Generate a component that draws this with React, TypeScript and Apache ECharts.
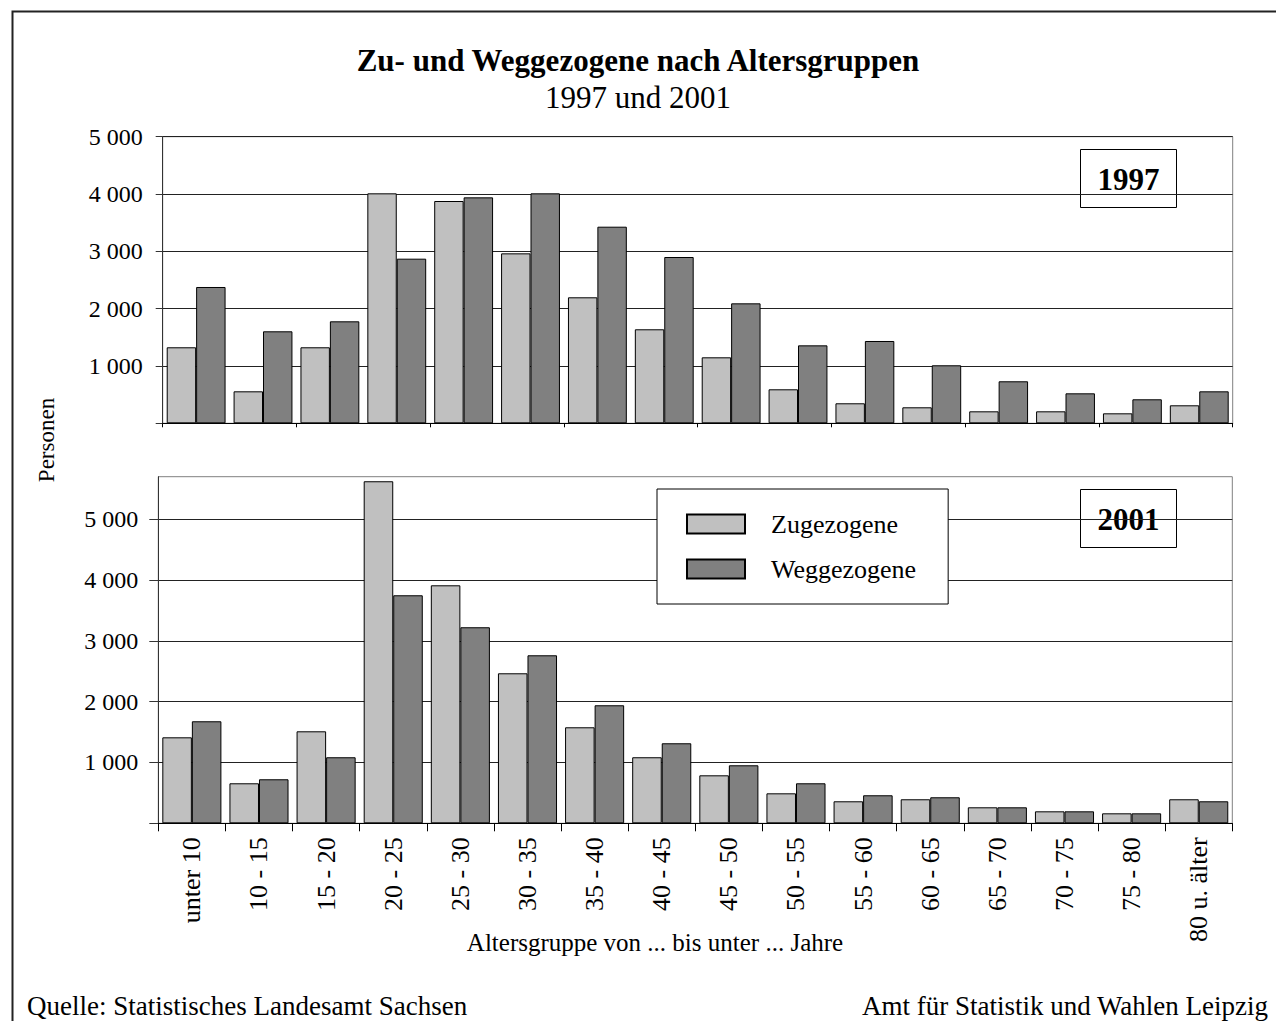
import React, { useEffect, useRef } from "react";
import * as echarts from "echarts";

const categories = ["unter 10", "10 - 15", "15 - 20", "20 - 25", "25 - 30", "30 - 35", "35 - 40", "40 - 45", "45 - 50", "50 - 55", "55 - 60", "60 - 65", "65 - 70", "70 - 75", "75 - 80", "80 u. älter"];
const zu1997 = [1326, 558, 1326, 4012, 3878, 2965, 2198, 1640, 1151, 593, 349, 279, 209, 209, 174, 314];
const weg1997 = [2378, 1605, 1779, 2872, 3942, 4012, 3430, 2901, 2093, 1360, 1436, 1012, 733, 523, 419, 558];
const zu2001 = [1414, 658, 1513, 5625, 3914, 2467, 1579, 1086, 789, 493, 362, 395, 263, 197, 164, 395];
const weg2001 = [1678, 724, 1086, 3750, 3224, 2763, 1941, 1316, 954, 658, 461, 428, 263, 197, 164, 362];
const yTicks = [0, 1000, 2000, 3000, 4000, 5000];
const seriesNames = ["Zugezogene", "Weggezogene"];
const yearLabels = ["1997", "2001"];

const FONT = "'Liberation Serif', 'Times New Roman', serif";

function fmt(v: number) {
  if (v === 0 || v % 1000 !== 0) return "";
  return String(v).replace(/\B(?=(\d{3})+(?!\d))/g, " ");
}

export default function App() {
  const ref = useRef<HTMLDivElement>(null);
  useEffect(() => {
    const chart = echarts.init(ref.current!, undefined, { renderer: "svg" });
    const barStyle = (color: string) => ({ color, borderColor: "#000", borderWidth: 1 });
    const yAxisCommon = (max: number, tickLen: number) => ({
      type: "value",
      min: 0,
      max,
      interval: 1000,
      axisLine: { show: true, lineStyle: { color: "#333", width: 1 } },
      axisTick: { show: true, length: tickLen, lineStyle: { color: "#333" }, customValues: yTicks },
      splitLine: { show: true, lineStyle: { color: "#222", width: 1 } },
      axisLabel: {
        formatter: (v: number) => fmt(v),
        fontFamily: FONT,
        fontSize: 24,
        color: "#000",
        margin: 20,
        customValues: yTicks,
      },
    });
    const yearBox = (label: string, x: number, y: number) => ({
      type: "group",
      left: x,
      top: y,
      children: [
        { type: "rect", shape: { x: 0, y: 0, width: 96, height: 58 }, style: { fill: "#fff", stroke: "#000", lineWidth: 1 } },
        { type: "text", x: 48, y: 30, style: { text: label, fontFamily: FONT, fontSize: 31, fontWeight: "bold", fill: "#000", align: "center", verticalAlign: "middle" } },
      ],
    });
    const option: any = {
      animation: false,
      backgroundColor: "#fff",
      title: {
        text: "Zu- und Weggezogene nach Altersgruppen",
        subtext: "1997 und 2001",
        left: "center",
        top: 40,
        itemGap: 6,
        textStyle: { fontFamily: FONT, fontSize: 31, fontWeight: "bold", color: "#000" },
        subtextStyle: { fontFamily: FONT, fontSize: 31, color: "#000" },
      },
      legend: {
        data: seriesNames,
        orient: "vertical",
        left: 657,
        top: 489,
        padding: [22, 32, 22, 29],
        itemWidth: 58,
        itemHeight: 19,
        itemGap: 19,
        borderColor: "#000",
        borderWidth: 1,
        backgroundColor: "#fff",
        icon: "rect",
        textStyle: { fontFamily: FONT, fontSize: 26, color: "#000", padding: [0, 0, 0, 21] },
      },
      grid: [
        { left: 162.7, top: 136.7, width: 1070, height: 286.6, show: true, borderColor: "#808080", borderWidth: 1, backgroundColor: "transparent" },
        { left: 158.3, top: 476.7, width: 1074, height: 346.6, show: true, borderColor: "#808080", borderWidth: 1, backgroundColor: "transparent" },
      ],
      xAxis: [
        {
          type: "category",
          gridIndex: 0,
          data: categories,
          axisLine: { lineStyle: { color: "#000" } },
          axisTick: { show: true, length: 4, lineStyle: { color: "#000" } },
          axisLabel: { show: false },
        },
        {
          type: "category",
          gridIndex: 1,
          data: categories,
          axisLine: { lineStyle: { color: "#000" } },
          axisTick: { show: true, length: 8, lineStyle: { color: "#000" } },
          axisLabel: { rotate: 90, interval: 0, fontFamily: FONT, fontSize: 26, color: "#000", margin: 14 },
        },
      ],
      yAxis: [
        { ...yAxisCommon(5000, 7), gridIndex: 0 },
        { ...yAxisCommon(5700, 9), gridIndex: 1 },
      ],
      series: [
        { name: seriesNames[0], type: "bar", xAxisIndex: 0, yAxisIndex: 0, data: zu1997, itemStyle: barStyle("#C0C0C0"), barGap: "0%", barCategoryGap: "12%" },
        { name: seriesNames[1], type: "bar", xAxisIndex: 0, yAxisIndex: 0, data: weg1997, itemStyle: barStyle("#808080"), barGap: "0%", barCategoryGap: "12%" },
        { name: seriesNames[0], type: "bar", xAxisIndex: 1, yAxisIndex: 1, data: zu2001, itemStyle: barStyle("#C0C0C0"), barGap: "0%", barCategoryGap: "12%" },
        { name: seriesNames[1], type: "bar", xAxisIndex: 1, yAxisIndex: 1, data: weg2001, itemStyle: barStyle("#808080"), barGap: "0%", barCategoryGap: "12%" },
      ],
      graphic: [
        { type: "rect", left: 10, top: 9, shape: { x: 0, y: 0, width: 1400, height: 1100 }, style: { fill: "none", stroke: "#222", lineWidth: 2 }, silent: true },
        yearBox(yearLabels[0], 1080, 149),
        yearBox(yearLabels[1], 1080, 489),
        {
          type: "text",
          x: 46,
          y: 440,
          rotation: Math.PI / 2,
          style: { text: "Personen", fontFamily: FONT, fontSize: 23, fill: "#000", align: "center", verticalAlign: "middle" },
        },
        {
          type: "text",
          x: 655,
          y: 942,
          style: { text: "Altersgruppe von ... bis unter ... Jahre", fontFamily: FONT, fontSize: 25, fill: "#000", align: "center", verticalAlign: "middle" },
        },
        {
          type: "text",
          x: 27,
          y: 1006,
          style: { text: "Quelle: Statistisches Landesamt Sachsen", fontFamily: FONT, fontSize: 27, fill: "#000", align: "left", verticalAlign: "middle" },
        },
        {
          type: "text",
          x: 1268,
          y: 1006,
          style: { text: "Amt für Statistik und Wahlen Leipzig", fontFamily: FONT, fontSize: 27, fill: "#000", align: "right", verticalAlign: "middle" },
        },
      ],
    };
    chart.setOption(option);
    return () => chart.dispose();
  }, []);
  return <div ref={ref} style={{ position: "fixed", left: 0, top: 0, width: 1276, height: 1021, background: "#fff" }} />;
}
